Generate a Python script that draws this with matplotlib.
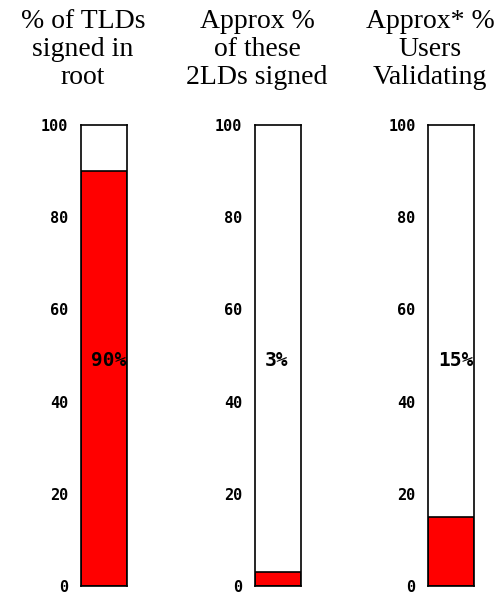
import matplotlib
matplotlib.use("Agg")
import matplotlib.pyplot as plt

titles = ["% of TLDs\nsigned in\nroot", "Approx %\nof these\n2LDs signed", "Approx* %\nUsers\nValidating"]
values = [90, 3, 15]
labels = ["90%", "3%", "15%"]
yticks = [0, 20, 40, 60, 80, 100]

W, H = 504, 593
fig = plt.figure(figsize=(W / 100, H / 100), dpi=100)

bar_left = [81, 255, 428]
title_x = [83, 257, 430]
bar_w = 46
y0, y100 = 586, 125

for i in range(3):
    ax = fig.add_axes([bar_left[i] / W, (H - y0) / H, bar_w / W, (y0 - y100) / H])
    ax.bar([0], [100], width=1, color="white", edgecolor="none")
    ax.bar([0], [values[i]], width=1, color="#ff0000", edgecolor="black", linewidth=1.2)
    ax.set_xlim(-0.5, 0.5)
    ax.set_ylim(0, 100)
    ax.set_xticks([])
    ax.set_yticks(yticks)
    ax.set_yticklabels([str(t) for t in yticks], family="DejaVu Sans Mono",
                       fontweight="bold", fontsize=11)
    ax.tick_params(axis="y", length=0, pad=9)
    for s in ax.spines.values():
        s.set_linewidth(1.2)
        s.set_color("black")
    # value label starts ~10px in from the bar's left edge
    ax.text(-0.5 + 10 / bar_w, 49, labels[i], ha="left", va="center",
            family="DejaVu Sans Mono", fontweight="bold", fontsize=14)
    fig.text(title_x[i] / W, 1 - 9 / H, titles[i], ha="center", va="top",
             family="Liberation Serif", fontsize=20, linespacing=1.17)

fig.savefig("out.png", dpi=100)
